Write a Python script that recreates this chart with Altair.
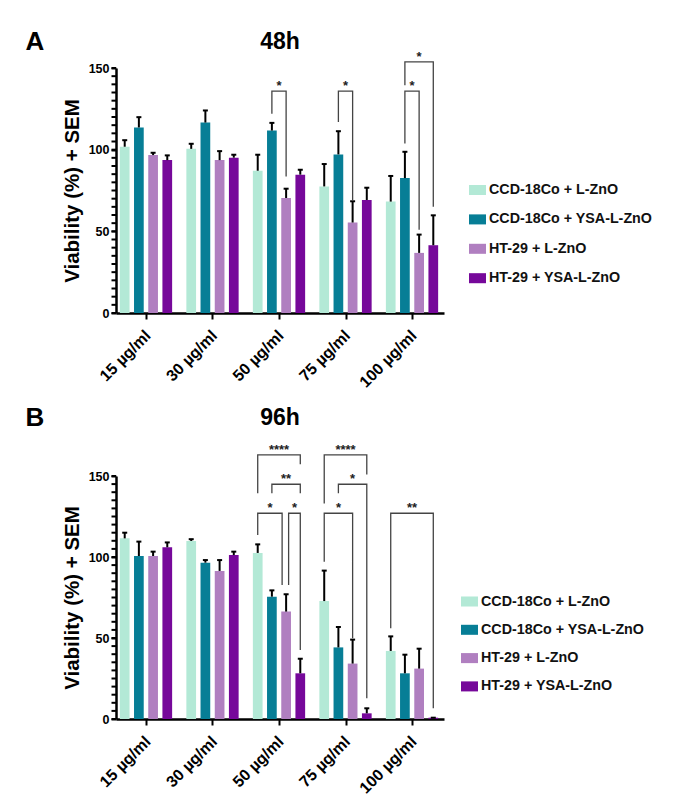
import altair as alt
import pandas as pd

# ---------------- data ----------------
concentrations = ["15 µg/ml", "30 µg/ml", "50 µg/ml", "75 µg/ml", "100 µg/ml"]
groups = ["CCD-18Co + L-ZnO", "CCD-18Co + YSA-L-ZnO", "HT-29 + L-ZnO", "HT-29 + YSA-L-ZnO"]
colors = ["#b3e9d6", "#077e96", "#b07fc0", "#76089a"]
y_major_ticks = [0, 50, 100, 150]
y_minor_ticks = list(range(0, 151, 5))

# 48 h  (mean viability %, SEM) per group, per concentration
mean_48_ccd_l = [101.8, 100.5, 87.1, 77.5, 68.2]
mean_48_ccd_ysa = [113.6, 116.6, 111.7, 97.1, 82.6]
mean_48_ht_l = [96.7, 93.6, 70.4, 55.4, 36.8]
mean_48_ht_ysa = [93.6, 95.1, 84.7, 69.2, 41.5]
sem_48_ccd_l = [4.0, 3.1, 9.8, 13.7, 15.7]
sem_48_ccd_ysa = [6.3, 7.4, 4.7, 14.2, 16.1]
sem_48_ht_l = [1.4, 5.5, 5.7, 13.0, 11.2]
sem_48_ht_ysa = [2.9, 1.8, 3.0, 7.5, 18.3]

# 96 h
mean_96_ccd_l = [111.5, 109.9, 102.5, 72.8, 42.0]
mean_96_ccd_ysa = [100.6, 96.5, 75.5, 44.2, 28.2]
mean_96_ht_l = [100.6, 91.4, 66.3, 34.2, 31.1]
mean_96_ht_ysa = [106.0, 101.2, 28.2, 3.5, 0.8]
sem_96_ccd_l = [3.5, 1.1, 5.3, 18.8, 9.0]
sem_96_ccd_ysa = [8.9, 1.6, 3.9, 12.6, 11.5]
sem_96_ht_l = [2.7, 6.7, 10.7, 14.8, 12.3]
sem_96_ht_ysa = [3.0, 2.1, 9.0, 3.1, 0.0]

# significance brackets: (concentration idx, left group, right group,
#                         bracket top, left leg end, right leg end, label)
brackets_48 = [
    (2, 1, 2, 135.8, 122.0, 83.5, "*"),
    (3, 1, 2, 135.8, 117.0, 69.0, "*"),
    (4, 1, 2, 135.8, 103.8, 50.9, "*"),
    (4, 1, 3, 153.7, 139.4, 65.0, "*"),
]
brackets_96 = [
    (2, 0, 3, 163.0, 139.3, 157.2, "****"),
    (2, 1, 3, 144.9, 139.3, 139.3, "**"),
    (2, 0, 2, 127.0, 113.6, 82.7, "*"),
    (2, 2, 3, 127.0, 82.7, 42.6, "*"),
    (3, 0, 3, 163.0, 133.0, 151.0, "****"),
    (3, 1, 3, 144.9, 139.3, 12.8, "*"),
    (3, 0, 2, 127.0, 97.0, 49.8, "*"),
    (4, 0, 3, 127.0, 56.0, 6.6, "**"),
]
# small horizontal leg nudges (px) so that adjacent brackets do not overlap
nudge_96 = {2: (0.0, -4.0), 3: (2.5, 0.0)}

# ---------------- layout / style ----------------
FONT = "Liberation Sans"
W = 328
PX_PER_UNIT = 66.5
GROUP_OFFSET = [-0.32, -0.107, 0.107, 0.32]
BAR_HALF = 0.073
X_DOMAIN = [-0.451, 4.481]


def bar_frame(means, sems):
    rows = []
    for gi, g in enumerate(groups):
        for ci, c in enumerate(concentrations):
            pos = ci + GROUP_OFFSET[gi]
            rows.append({
                "group": g, "conc": c, "pos": pos,
                "x0": pos - BAR_HALF, "x1": pos + BAR_HALF,
                "mean": means[gi][ci], "top": means[gi][ci] + sems[gi][ci],
            })
    return pd.DataFrame(rows)


def bracket_frames(brackets, nudges):
    lines, labels = [], []
    for bi, (ci, gl, gr, top, lb, rb, lab) in enumerate(brackets):
        nl, nr = nudges.get(bi, (0.0, 0.0))
        xl = ci + GROUP_OFFSET[gl] + nl / PX_PER_UNIT
        xr = ci + GROUP_OFFSET[gr] + nr / PX_PER_UNIT
        for k, (x, y) in enumerate([(xl, lb), (xl, top), (xr, top), (xr, rb)]):
            lines.append({"id": bi, "k": k, "x": x, "y": y})
        labels.append({"x": (xl + xr) / 2, "y": top, "label": lab})
    return pd.DataFrame(lines), pd.DataFrame(labels)


label_js = "[" + ",".join('"%s"' % c for c in concentrations) + "]"

x_scale = alt.Scale(domain=X_DOMAIN, nice=False, zero=False)
y_scale = alt.Scale(domain=[0, 150], nice=False)

x_axis = alt.Axis(
    values=[0, 1, 2, 3, 4], labelExpr=label_js + "[datum.value]", title=None,
    labelAngle=-45, labelFontSize=16, labelFont=FONT, labelFontWeight="bold",
    labelColor="#000", tickSize=6, tickWidth=2, tickColor="#000",
    domainWidth=2.5, domainColor="#000", grid=False, labelPadding=8,
    labelOffset=-4, labelOverlap=False,
)
y_axis = alt.Axis(
    values=y_major_ticks, tickSize=5, labelOverlap=False,
    tickWidth=2, tickColor="#000", domainWidth=2.5, domainColor="#000",
    labelFontSize=12.5, labelFont=FONT, labelFontWeight="bold", labelColor="#000",
    labelPadding=2, grid=False,
    title="Viability (%) + SEM", titleFontSize=20.5, titleFont=FONT,
    titleFontWeight="bold", titleColor="#000", titlePadding=6,
)


def panel(letter, title, means, sems, brackets, nudges, height, head_y,
          leg_x, leg_y, leg_pad):
    bars = bar_frame(means, sems)
    lines, labels = bracket_frames(brackets, nudges)
    legend = alt.Legend(
        orient="none", legendX=leg_x, legendY=leg_y, title=None,
        symbolType="M-1,-0.59L1,-0.59L1,0.59L-1,0.59Z", symbolSize=289,
        symbolStrokeWidth=0, symbolOpacity=1, labelFontSize=14.3, labelFont=FONT,
        labelFontWeight="bold", labelColor="#111", labelOffset=3, labelLimit=400,
        rowPadding=leg_pad, padding=0,
    )
    b = alt.Chart(bars).mark_bar(opacity=1).encode(
        x=alt.X("x0:Q", scale=x_scale, axis=x_axis),
        x2="x1:Q",
        y=alt.Y("mean:Q", scale=y_scale, axis=y_axis),
        y2=alt.datum(0),
        color=alt.Color("group:N", scale=alt.Scale(domain=groups, range=colors),
                        legend=legend, sort=groups),
    )
    minor = alt.Chart(pd.DataFrame({"v": y_minor_ticks})).mark_rule(
        color="#000", strokeWidth=2).encode(
        y="v:Q", x=alt.value(-4.5), x2=alt.value(0))
    err = alt.Chart(bars).mark_rule(color="#000", strokeWidth=2).encode(
        x="pos:Q", y="mean:Q", y2="top:Q")
    cap = alt.Chart(bars).mark_tick(color="#000", orient="horizontal", size=5,
                                    thickness=2, opacity=1).encode(
        x="pos:Q", y="top:Q")
    br = alt.Chart(lines).mark_line(color="#444", strokeWidth=1.3).encode(
        x="x:Q", y="y:Q", detail="id:N", order="k:Q")
    st = alt.Chart(labels).mark_text(font=FONT, fontWeight="bold", fontSize=13,
                                     baseline="alphabetic", dy=-1, color="#222").encode(
        x="x:Q", y="y:Q", text="label:N")
    heads = pd.DataFrame({"t": [letter, title], "kind": ["letter", "title"]})
    let = alt.Chart(heads).transform_filter("datum.kind == 'letter'").mark_text(
        font=FONT, fontWeight="bold", fontSize=26, color="#000",
        align="center", baseline="middle").encode(
        x=alt.value(-81), y=alt.value(head_y), text="t:N")
    ttl = alt.Chart(heads).transform_filter("datum.kind == 'title'").mark_text(
        font=FONT, fontWeight="bold", fontSize=23, color="#000",
        align="center", baseline="middle").encode(
        x=alt.value(W / 2), y=alt.value(head_y), text="t:N")
    return alt.layer(b, minor, err, cap, br, st, let, ttl).properties(
        width=W, height=height)


pA = panel("A", "48h",
           [mean_48_ccd_l, mean_48_ccd_ysa, mean_48_ht_l, mean_48_ht_ysa],
           [sem_48_ccd_l, sem_48_ccd_ysa, sem_48_ht_l, sem_48_ht_ysa],
           brackets_48, {}, 245, -26, 353, 113.5, 13.4)
pB = panel("B", "96h",
           [mean_96_ccd_l, mean_96_ccd_ysa, mean_96_ht_l, mean_96_ht_ysa],
           [sem_96_ccd_l, sem_96_ccd_ysa, sem_96_ht_l, sem_96_ht_ysa],
           brackets_96, nudge_96, 243, -58, 345, 117, 12.3)

chart = alt.vconcat(pA, pB, spacing=14).resolve_scale(color="independent").properties(
    padding={"left": 17, "top": 21, "right": 5, "bottom": 5},
    background="white",
).configure_view(stroke=None)

chart.save("out.html", embed_options={"renderer": "svg", "actions": False})
